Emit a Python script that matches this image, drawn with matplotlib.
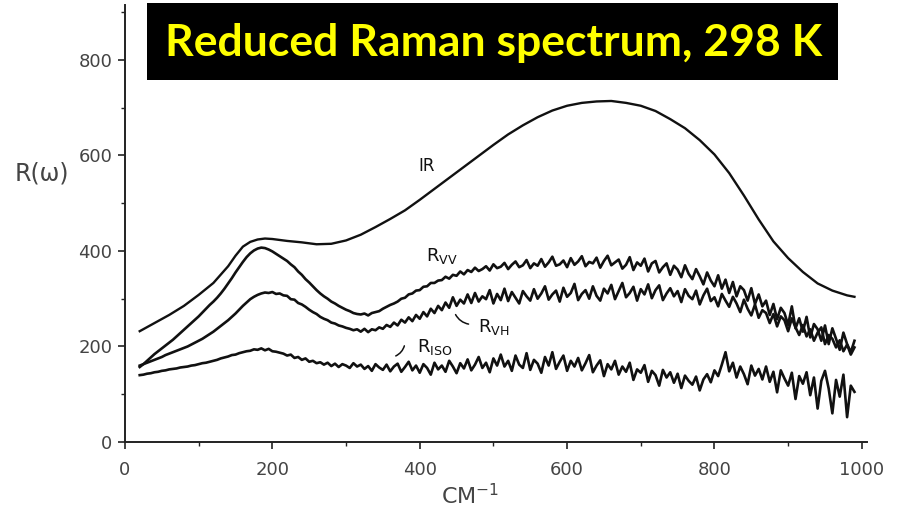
import numpy as np
import matplotlib
matplotlib.use("Agg")
import matplotlib.pyplot as plt
from matplotlib.patches import Rectangle

# IR curve (smooth), read every 20 cm-1
x_ir = [20, 40, 60, 80, 100, 120, 140, 150, 160, 170, 180, 190, 200, 210, 220, 240, 260,
        280, 300, 320, 340, 360, 380, 400, 420, 440, 460, 480, 500, 520, 540, 560, 580,
        600, 620, 640, 660, 680, 700, 720, 740, 760, 780, 800, 820, 840, 860, 880, 900,
        920, 940, 960, 980, 990]
r_ir = [232, 249, 266, 285, 308, 333, 368, 390, 409, 419, 424, 426, 425, 423, 421, 418, 414,
        415, 422, 434, 450, 467, 485, 507, 530, 553, 576, 599, 622, 644, 663, 680, 694,
        704, 710, 713, 714, 710, 704, 693, 676, 657, 632, 602, 563, 516, 466, 420, 385,
        356, 332, 317, 307, 304]

# noisy Raman curves, read every 5 cm-1 from 20 to 990
x_raman = np.arange(20, 995, 5)
r_vv = [157, 163, 170, 177, 184, 190, 196, 202, 208, 214,
        221, 228, 235, 242, 249, 256, 263, 271, 279, 287,
        294, 302, 311, 321, 332, 343, 355, 366, 377, 387,
        395, 401, 405, 407, 406, 403, 399, 394, 389, 384,
        379, 372, 366, 357, 350, 341, 334, 326, 318, 311,
        305, 300, 294, 290, 285, 281, 277, 274, 270, 268,
        267, 269, 265, 270, 272, 274, 279, 283, 287, 290,
        294, 300, 302, 309, 311, 317, 318, 325, 326, 333,
        333, 338, 339, 346, 342, 350, 348, 357, 351, 360,
        356, 365, 358, 362, 368, 359, 372, 364, 367, 375,
        362, 371, 378, 366, 370, 381, 364, 374, 369, 383,
        367, 376, 388, 369, 372, 380, 366, 385, 371, 378,
        389, 368, 377, 374, 386, 365, 379, 390, 370, 376,
        382, 363, 371, 387, 360, 376, 369, 384, 357, 374,
        379, 355, 366, 374, 350, 369, 361, 345, 370, 352,
        341, 362, 347, 330, 355, 338, 326, 349, 321, 340,
        312, 335, 305, 326, 318, 296, 322, 289, 309, 284,
        296, 266, 289, 257, 281, 270, 245, 284, 238, 259,
        231, 262, 219, 247, 236, 212, 244, 205, 238, 216,
        193, 229, 205, 188, 212]
r_vh = [160, 163, 166, 169, 172, 175, 178, 182, 185, 188,
        191, 194, 197, 200, 204, 208, 212, 216, 221, 226,
        231, 237, 243, 249, 255, 262, 269, 277, 285, 292,
        299, 304, 308, 311, 313, 312, 314, 310, 311, 307,
        306, 299, 298, 291, 288, 283, 277, 272, 268, 262,
        258, 255, 250, 248, 244, 242, 239, 237, 234, 236,
        231, 237, 230, 236, 234, 240, 237, 245, 241, 250,
        244, 256, 250, 261, 253, 266, 258, 272, 263, 279,
        270, 285, 276, 292, 281, 303, 285, 298, 290, 309,
        291, 312, 294, 305, 299, 318, 290, 310, 297, 321,
        295, 314, 302, 290, 316, 305, 296, 320, 300, 311,
        326, 298, 309, 317, 294, 323, 304, 312, 331, 297,
        310, 318, 300, 326, 306, 296, 321, 311, 329, 299,
        316, 333, 303, 312, 325, 296, 320, 309, 330, 301,
        318, 328, 297, 311, 322, 305, 316, 293, 320, 306,
        299, 317, 288, 307, 321, 295, 303, 284, 310, 296,
        283, 304, 290, 272, 298, 279, 265, 288, 260, 276,
        270, 249, 268, 242, 263, 255, 232, 259, 240, 224,
        245, 221, 236, 212, 229, 240, 205, 224, 216, 198,
        213, 190, 204, 183, 198]
r_iso = [140, 141, 143, 144, 146, 147, 149, 150, 152, 153,
         154, 156, 157, 158, 160, 161, 163, 165, 166, 168,
         170, 172, 175, 177, 179, 182, 183, 186, 188, 190,
         191, 194, 193, 196, 192, 195, 190, 189, 187, 185,
         181, 183, 176, 178, 172, 175, 168, 170, 165, 167,
         162, 166, 159, 164, 157, 163, 160, 155, 165, 158,
         162, 153, 159, 149, 163, 156, 151, 162, 148, 158,
         164, 147, 157, 168, 150, 160, 145, 163, 155, 141,
         166, 152, 160, 147, 170, 158, 144, 165, 154, 173,
         150, 162, 178, 155, 166, 146, 175, 160, 183, 158,
         170, 149, 181, 162, 155, 186, 151, 172, 164, 145,
         178, 160, 188, 153, 168, 181, 149, 170, 158, 176,
         150, 165, 182, 146, 160, 171, 138, 163, 152, 170,
         141, 158, 147, 166, 130, 152, 145, 161, 126, 149,
         140, 118, 151, 135, 146, 124, 143, 113, 139, 128,
         120, 137, 108, 131, 142, 125, 150, 138, 162, 188,
         148, 166, 135, 158, 142, 121, 160, 139, 153, 131,
         158, 126, 147, 104, 150, 133, 118, 145, 90, 138,
         122, 146, 98, 135, 70, 128, 149, 112, 60, 130,
         95, 141, 52, 118, 105]

x_ticks = [0, 200, 400, 600, 800, 1000]
x_ticklabels = ["0", "200", "400", "600", "800", "1000"]
y_ticks = [0, 200, 400, 600, 800]

fig = plt.figure(figsize=(9.05, 5.13), dpi=100)
ax = fig.add_axes([0.1381, 0.1384, 0.8199, 0.8519])

ink = "#111111"
ax.plot(x_ir, r_ir, color=ink, lw=1.7)
ax.plot(x_raman, r_vv, color=ink, lw=1.9)
ax.plot(x_raman, r_vh, color=ink, lw=1.9)
ax.plot(x_raman, r_iso, color=ink, lw=1.9)

ax.set_xlim(0, 1007)
ax.set_ylim(0, 915)

# axes look like the scanned figure: only left and bottom
for s in ["top", "right"]:
    ax.spines[s].set_visible(False)
for s in ["left", "bottom"]:
    ax.spines[s].set_linewidth(1.4)
    ax.spines[s].set_color("#222222")

ax.set_xticks(x_ticks)
ax.set_xticklabels(x_ticklabels)
ax.set_yticks(y_ticks)
ax.set_xticks(np.arange(100, 1000, 200), minor=True)
ax.set_yticks(np.arange(100, 1000, 200), minor=True)
ax.tick_params(which="major", length=5, width=1.2, colors="#222222", labelcolor="#444444",
               labelsize=13)
ax.tick_params(which="minor", length=3, width=1.0, colors="#222222")
ax.tick_params(axis="x", pad=9)
ax.tick_params(axis="y", pad=4)

ax.set_ylabel("R(ω)", fontsize=17, color="#444444", rotation=0)
ax.yaxis.set_label_coords(-0.112, 0.588)
ax.set_xlabel("CM$^{-1}$", fontsize=16, color="#444444")
ax.xaxis.set_label_coords(0.465, -0.094)

# curve labels
ax.text(410, 577, "IR", fontsize=12, color=ink, ha="center", va="center")
ax.text(430, 390, r"R$_{\rm VV}$", fontsize=13, color=ink, ha="center", va="center")
ax.text(500, 240, r"R$_{\rm VH}$", fontsize=13, color=ink, ha="center", va="center")
ax.text(420, 198, r"R$_{\rm ISO}$", fontsize=13, color=ink, ha="center", va="center")
ax.annotate("", xy=(447, 272), xytext=(470, 246),
            arrowprops=dict(arrowstyle="-", color=ink, lw=1.1,
                            connectionstyle="arc3,rad=-0.3"))
ax.annotate("", xy=(364, 178), xytext=(380, 207),
            arrowprops=dict(arrowstyle="-", color=ink, lw=1.1,
                            connectionstyle="arc3,rad=-0.3"))

# title box
fig.patches.append(Rectangle((0.1624, 0.844), 0.7635, 0.150, transform=fig.transFigure,
                             facecolor="black", edgecolor="none", zorder=5))
fig.text(0.545, 0.916, "Reduced Raman spectrum, 298 K", fontsize=32, fontweight="bold",
         family="Lato", color="#FFFF00", ha="center", va="center", zorder=6)

fig.savefig("out.png", dpi=100)
